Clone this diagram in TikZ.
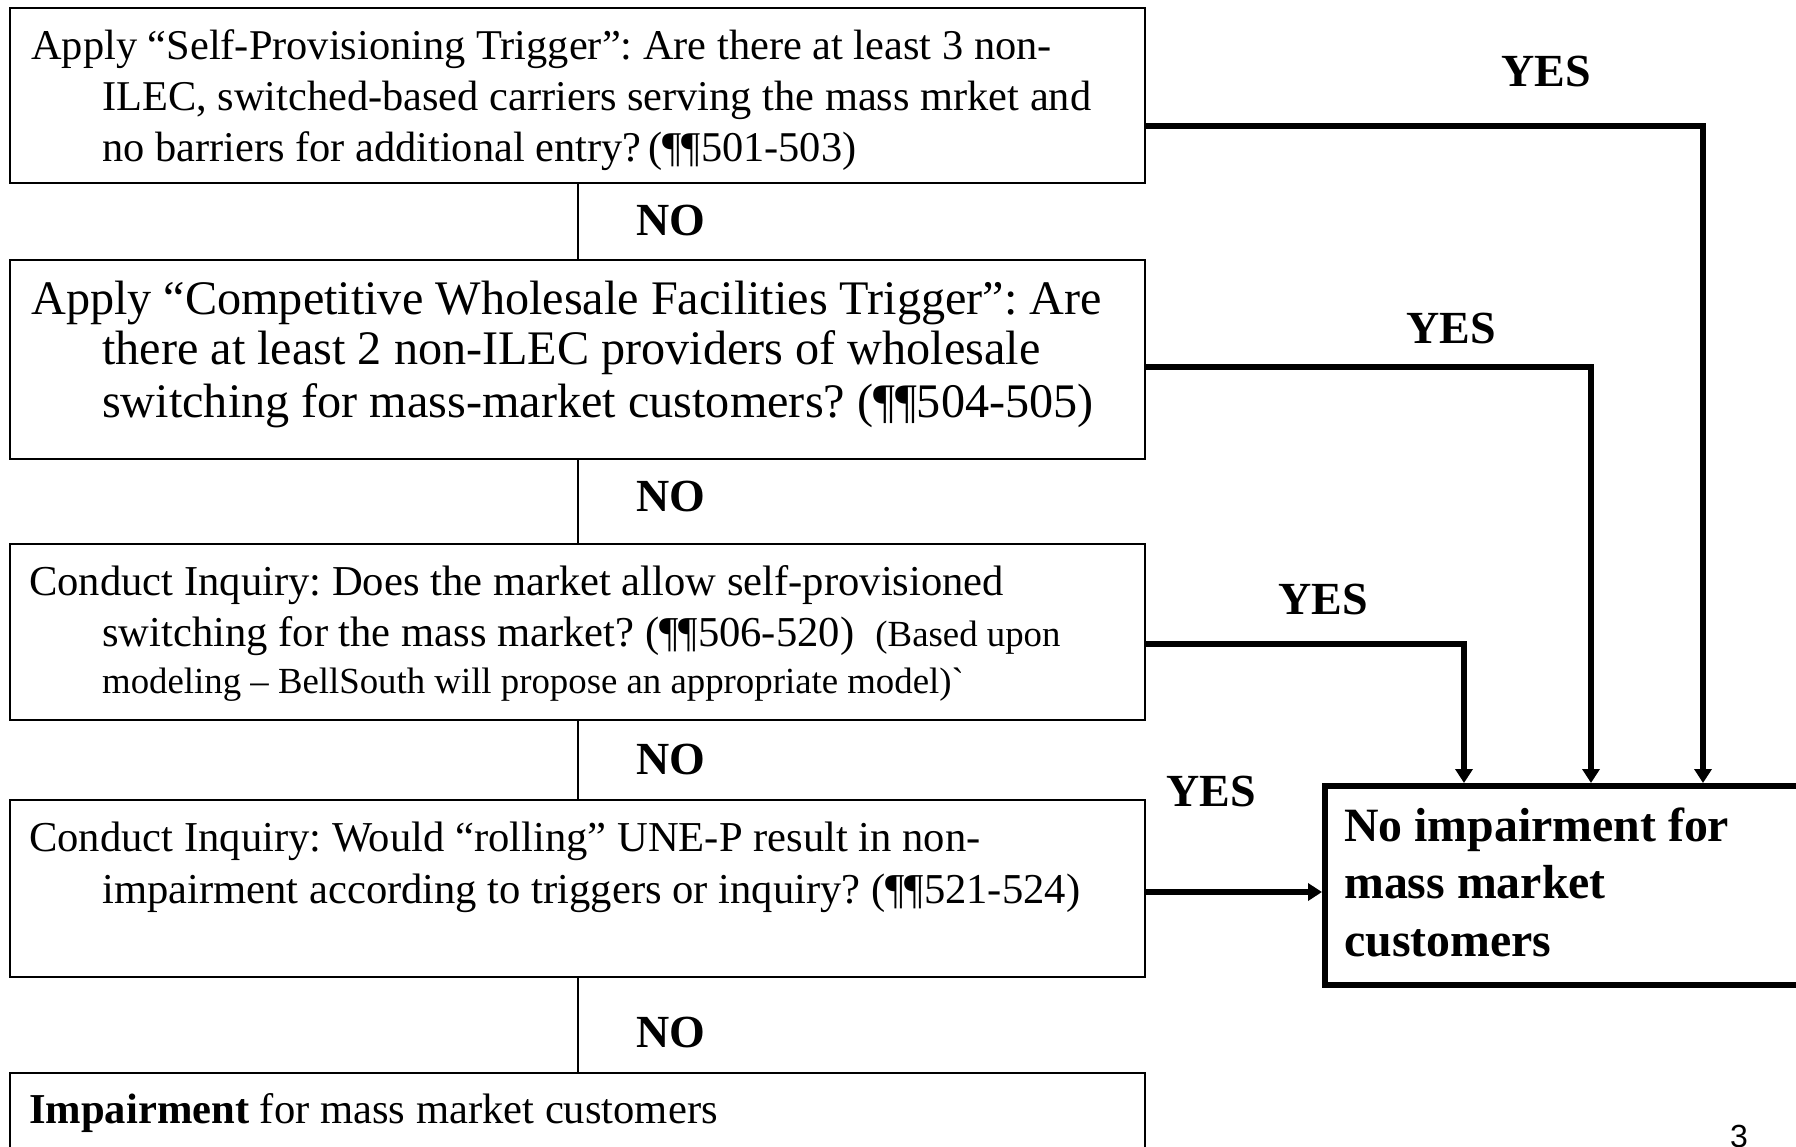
\documentclass[tikz,border=0pt]{standalone}
\usepackage{fontspec}
\setmainfont{Liberation Serif}
\newfontfamily\arialfont{Liberation Sans}
\usetikzlibrary{arrows.meta,calc}
\frenchspacing
\begin{document}
\begin{tikzpicture}[x=1pt,y=-1pt,
  box/.style={draw, line width=2pt, inner sep=0pt, anchor=north west, minimum width=1135pt},
  nibox/.style={draw, line width=6pt, inner sep=0pt, anchor=north west},
  tline/.style={anchor=base west, inner sep=0pt, font=\fontsize{42.4}{50}\selectfont},
  tbig/.style={anchor=base west, inner sep=0pt, font=\fontsize{48.2}{56}\selectfont},
  tmid/.style={anchor=base west, inner sep=0pt, font=\fontsize{42.6}{50}\selectfont},
  tsmall/.style={anchor=base west, inner sep=0pt, font=\fontsize{36.8}{44}\selectfont},
  tni/.style={anchor=base west, inner sep=0pt, font=\bfseries\fontsize{47.8}{56}\selectfont},
  lab/.style={anchor=base, inner sep=0pt, font=\bfseries\fontsize{46}{54}\selectfont},
  noline/.style={line width=2pt},
  yesarrow/.style={line width=6pt, -{Triangle[length=14pt,width=17pt]}}
]
\clip (0,0) rectangle (1796,1146);
\fill[white] (0,0) rectangle (1796,1146);

% boxes
\node[box, minimum height=175pt] (b1) at (9,7) {};
\node[box, minimum height=199pt] (b2) at (9,259) {};
\node[box, minimum height=176pt] (b3) at (9,543) {};
\node[box, minimum height=177pt] (b4) at (9,799) {};
\node[box, minimum height=130pt] (b5) at (9,1072) {};
\node[nibox, minimum width=520pt, minimum height=199pt] (ni) at (1322,783) {};

% box texts
\node[tline] (t11) at (31,59) {Apply “Self-Provisioning Trigger”: Are there at least 3 non-};
\node[tline] (t12) at (102,110) {ILEC, switched-based carriers serving the mass mrket and};
\node[tline] (t13) at (102,161) {no barriers for additional entry?\,(¶¶501-503)};

\node[tbig] (t21) at (31,314) {Apply “Competitive Wholesale Facilities Trigger”: Are};
\node[tbig] (t22) at (102,364) {there at least 2 non-ILEC providers of wholesale};
\node[tbig] (t23) at (102,417) {switching for mass-market customers? (¶¶504-505)};

\node[tmid] (t31) at (29,595) {Conduct Inquiry: Does the market allow self-provisioned};
\node[tmid] (t32) at (102,646) {switching for the mass market? (¶¶506-520)\ \ {\fontsize{36.8}{44}\selectfont(Based upon}};
\node[tsmall] (t33) at (102,693) {modeling – BellSouth will propose an appropriate model)\textasciigrave};

\node[tmid] (t41) at (29,851) {Conduct Inquiry: Would “rolling” UNE-P result in non-};
\node[tmid] (t42) at (102,903) {impairment according to triggers or inquiry? (¶¶521-524)};

\node[tmid] (t51) at (29,1123) {\textbf{Impairment} for mass market customers};

\node[tni] (n1) at (1344,841) {No impairment for};
\node[tni] (n2) at (1344,898) {mass market};
\node[tni] (n3) at (1344,956) {customers};

% NO connectors
\draw[noline] (b1.south) -- (b2.north);
\draw[noline] (b2.south) -- (b3.north);
\draw[noline] (b3.south) -- (b4.north);
\draw[noline] (b4.south) -- (b5.north);
\node[lab] (no1) at (671,235) {NO};
\node[lab] (no2) at (671,511) {NO};
\node[lab] (no3) at (671,774) {NO};
\node[lab] (no4) at (671,1047) {NO};

% YES connectors
\coordinate (k1) at (1703,126);
\coordinate (k2) at (1591,367);
\coordinate (k3) at (1464,644);
\coordinate (k4) at (1250,892);
\draw[yesarrow] (b1.east |- k1) -- (k1) -- (k1 |- ni.north);
\draw[yesarrow] (b2.east |- k2) -- (k2) -- (k2 |- ni.north);
\draw[yesarrow] (b3.east |- k3) -- (k3) -- (k3 |- ni.north);
\draw[yesarrow] (b4.east |- k4) -- (k4 -| ni.west);
\node[lab] (y1) at (1546,86) {YES};
\node[lab] (y2) at (1451,343) {YES};
\node[lab] (y3) at (1323,614) {YES};
\node[lab] (y4) at (1211,806) {YES};

\node[anchor=base, inner sep=0pt, font=\arialfont\fontsize{32}{38}\selectfont] (pg) at (1739,1147) {3};
\end{tikzpicture}
\end{document}
